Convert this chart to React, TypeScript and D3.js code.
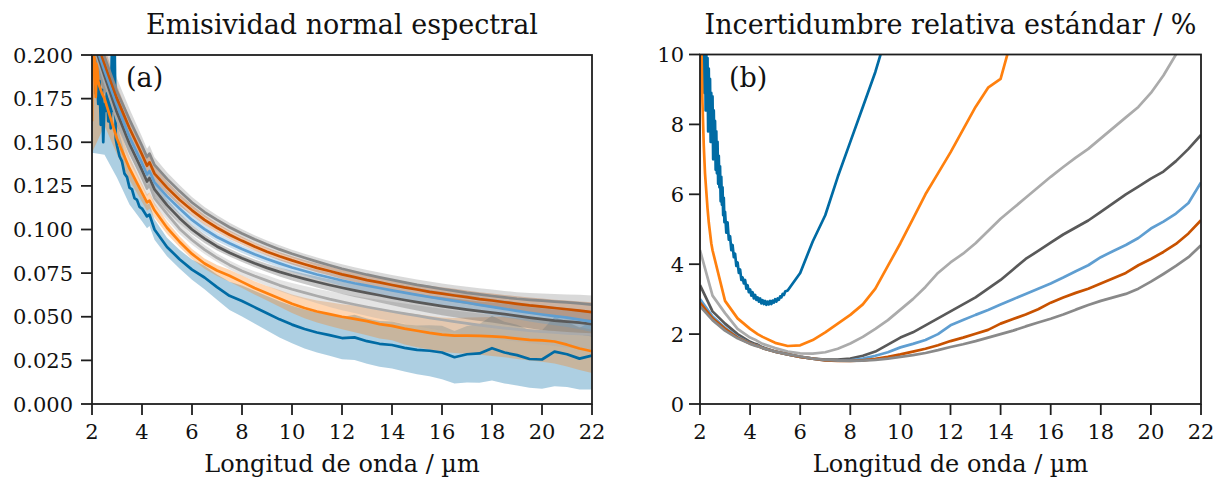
import React from 'react';
import * as d3 from 'd3';

// Wavelength grid (µm) shared by all series
const WL = [2, 2.5, 3, 3.5, 4, 4.2, 4.3, 4.5, 5, 5.5, 6, 6.5, 7, 7.5, 8, 8.5, 9, 9.5, 10, 10.5, 11, 11.5, 12, 12.5, 13, 13.5, 14, 14.5, 15, 15.5, 16, 16.5, 17, 17.5, 18, 18.5, 19, 19.5, 20, 20.5, 21, 21.5, 22];

// Spectral normal emissivity (panel a)
const EMI_BLUE = [0.200, 0.170, 0.145, 0.124, 0.112, 0.1075, 0.1085, 0.100, 0.090, 0.083, 0.077, 0.0725, 0.067, 0.062, 0.059, 0.0555, 0.052, 0.0485, 0.0455, 0.043, 0.041, 0.0395, 0.0378, 0.0382, 0.036, 0.0345, 0.0338, 0.0322, 0.031, 0.0305, 0.0295, 0.0268, 0.0285, 0.029, 0.032, 0.0295, 0.028, 0.0258, 0.0255, 0.030, 0.0285, 0.026, 0.0278];
const EMI_ORANGE = [0.200, 0.175, 0.152, 0.135, 0.121, 0.1155, 0.1165, 0.111, 0.101, 0.093, 0.086, 0.0805, 0.0765, 0.0735, 0.070, 0.0665, 0.0635, 0.0605, 0.0575, 0.055, 0.053, 0.0515, 0.050, 0.0488, 0.0475, 0.0458, 0.0448, 0.0432, 0.042, 0.0408, 0.0398, 0.0392, 0.0392, 0.039, 0.0387, 0.0383, 0.0375, 0.0368, 0.0365, 0.0358, 0.034, 0.0318, 0.0302];
const EMI_LGRAY = [0.208, 0.185, 0.163, 0.145, 0.130, 0.1235, 0.1255, 0.118, 0.109, 0.1005, 0.094, 0.0885, 0.0838, 0.0797, 0.0762, 0.0733, 0.0707, 0.068, 0.0658, 0.0638, 0.0619, 0.0601, 0.0585, 0.057, 0.0556, 0.0543, 0.053, 0.0518, 0.0506, 0.0494, 0.0483, 0.0472, 0.0462, 0.0452, 0.0443, 0.0435, 0.0428, 0.0421, 0.0415, 0.041, 0.0405, 0.0401, 0.0398];
const EMI_DGRAY = [0.21, 0.188, 0.167, 0.149, 0.134, 0.1275, 0.1295, 0.123, 0.114, 0.1065, 0.1, 0.0948, 0.0903, 0.0867, 0.0835, 0.0806, 0.078, 0.0757, 0.0736, 0.0717, 0.0699, 0.0682, 0.0666, 0.0651, 0.0637, 0.0623, 0.0609, 0.0596, 0.0584, 0.0572, 0.0561, 0.0551, 0.0541, 0.0532, 0.0524, 0.0515, 0.0505, 0.0495, 0.0486, 0.0478, 0.0472, 0.0466, 0.0458];
const EMI_LBLUE = [0.212, 0.191, 0.171, 0.153, 0.138, 0.1315, 0.1335, 0.127, 0.119, 0.112, 0.1055, 0.1002, 0.0957, 0.0921, 0.0888, 0.0858, 0.0831, 0.0806, 0.0782, 0.0762, 0.0742, 0.0725, 0.0708, 0.0692, 0.0678, 0.0665, 0.0651, 0.0638, 0.0625, 0.0613, 0.0602, 0.0591, 0.058, 0.0568, 0.0557, 0.0545, 0.0534, 0.0523, 0.0513, 0.0504, 0.0495, 0.0484, 0.0472];
const EMI_DORANGE = [0.215, 0.195, 0.175, 0.158, 0.143, 0.1365, 0.1385, 0.132, 0.124, 0.117, 0.111, 0.1055, 0.101, 0.097, 0.0935, 0.0902, 0.0873, 0.0847, 0.0823, 0.0801, 0.078, 0.0762, 0.0743, 0.0727, 0.071, 0.0697, 0.0682, 0.0668, 0.0656, 0.0643, 0.0633, 0.0622, 0.0612, 0.0601, 0.0593, 0.0583, 0.0574, 0.0565, 0.0558, 0.055, 0.0543, 0.0535, 0.0527];
const EMI_MGRAY = [0.218, 0.199, 0.179, 0.163, 0.148, 0.1415, 0.1435, 0.137, 0.129, 0.122, 0.1155, 0.11, 0.1055, 0.1013, 0.0977, 0.0944, 0.0914, 0.0886, 0.0861, 0.0838, 0.0816, 0.0795, 0.0775, 0.0758, 0.0741, 0.0726, 0.0711, 0.0697, 0.0683, 0.0671, 0.0659, 0.0648, 0.0637, 0.0628, 0.0619, 0.0611, 0.0603, 0.0597, 0.0592, 0.0587, 0.0582, 0.0577, 0.057];

// Noisy short-wavelength start of two emissivity series
const EMI_BLUE_START_WL = [2.0, 2.05, 2.1, 2.15, 2.2, 2.25, 2.3, 2.35, 2.4, 2.45, 2.5, 2.55, 2.6, 2.65, 2.7, 2.75, 2.8, 2.85, 2.9, 2.95, 3.0, 3.1, 3.2, 3.3, 3.4, 3.5, 3.6, 3.7, 3.8, 3.9, 4.0];
const EMI_BLUE_START = [0.21, 0.195, 0.2, 0.178, 0.19, 0.172, 0.185, 0.16, 0.18, 0.15, 0.172, 0.168, 0.178, 0.162, 0.175, 0.158, 0.21, 0.168, 0.215, 0.152, 0.148, 0.142, 0.139, 0.132, 0.13, 0.124, 0.123, 0.118, 0.117, 0.113, 0.112];
const EMI_ORANGE_START_WL = [2.0, 2.03, 2.06, 2.1, 2.15, 2.2, 2.25, 2.3, 2.4, 2.5];
const EMI_ORANGE_START = [0.162, 0.21, 0.19, 0.2, 0.176, 0.195, 0.185, 0.182, 0.178, 0.175];

// Relative standard uncertainty / % (panel b)
const U_BLUE = [14, 8.0, 5.3, 3.9, 3.25, 3.15, 3.0, 2.92, 2.95, 3.25, 3.75, 4.65, 5.4, 6.5, 7.5, 8.5, 9.5, 10.7, 11.8, 13, 14, 15, 16, 17, 18, 19, 20, 21, 22.5, 24, 26, 28, 28.5, 29, 29, 30, 31, 32, 33, 33, 33, 34, 35];
const U_ORANGE = [14, 4.4, 2.95, 2.45, 2.15, 2.05, 2.0, 1.92, 1.75, 1.66, 1.68, 1.83, 2.05, 2.3, 2.55, 2.85, 3.3, 3.95, 4.6, 5.3, 6.0, 6.6, 7.2, 7.85, 8.5, 9.05, 9.3, 10.6, 11.2, 11.8, 12.3, 12.8, 13.3, 13.8, 14.4, 15, 15.6, 16.2, 16.8, 17.5, 18.3, 19.3, 20.5];
const U_LGRAY = [4.4, 3.1, 2.6, 2.15, 1.9, 1.84, 1.8, 1.72, 1.6, 1.5, 1.45, 1.44, 1.48, 1.58, 1.73, 1.92, 2.15, 2.4, 2.7, 3.0, 3.35, 3.75, 4.05, 4.3, 4.6, 4.95, 5.3, 5.6, 5.9, 6.2, 6.5, 6.78, 7.05, 7.3, 7.6, 7.9, 8.2, 8.5, 8.9, 9.4, 10.0, 10.6, 11.2];
const U_DGRAY = [3.4, 2.65, 2.3, 2.0, 1.78, 1.72, 1.7, 1.62, 1.5, 1.42, 1.35, 1.3, 1.27, 1.27, 1.3, 1.38, 1.5, 1.7, 1.9, 2.05, 2.25, 2.45, 2.65, 2.85, 3.05, 3.3, 3.55, 3.85, 4.15, 4.38, 4.62, 4.85, 5.05, 5.25, 5.5, 5.75, 6.0, 6.22, 6.45, 6.65, 6.95, 7.3, 7.7];
const U_LBLUE = [3.0, 2.5, 2.18, 1.92, 1.74, 1.69, 1.67, 1.6, 1.5, 1.42, 1.35, 1.3, 1.25, 1.24, 1.25, 1.3, 1.38, 1.48, 1.62, 1.72, 1.83, 2.0, 2.25, 2.4, 2.55, 2.69, 2.85, 3.0, 3.15, 3.3, 3.45, 3.62, 3.8, 3.97, 4.2, 4.38, 4.55, 4.75, 5.02, 5.22, 5.45, 5.75, 6.34];
const U_DORANGE = [2.9, 2.45, 2.15, 1.9, 1.73, 1.68, 1.66, 1.6, 1.5, 1.42, 1.35, 1.3, 1.25, 1.23, 1.23, 1.25, 1.29, 1.35, 1.42, 1.5, 1.58, 1.68, 1.8, 1.9, 2.01, 2.12, 2.3, 2.43, 2.56, 2.71, 2.9, 3.05, 3.18, 3.3, 3.45, 3.6, 3.75, 3.97, 4.15, 4.35, 4.58, 4.88, 5.26];
const U_MGRAY = [2.8, 2.4, 2.1, 1.88, 1.72, 1.67, 1.65, 1.6, 1.5, 1.42, 1.36, 1.3, 1.26, 1.24, 1.23, 1.24, 1.26, 1.3, 1.35, 1.4, 1.46, 1.54, 1.63, 1.71, 1.8, 1.9, 2.0, 2.1, 2.22, 2.33, 2.44, 2.56, 2.7, 2.83, 2.95, 3.05, 3.15, 3.3, 3.5, 3.72, 3.95, 4.2, 4.54];

// Noisy short-wavelength start of two uncertainty series
const U_BLUE_START_WL = [
  2.1, 2.125, 2.15, 2.175, 2.2, 2.225, 2.25, 2.275, 2.3, 2.325, 2.35, 2.375, 2.4, 2.425, 2.45, 2.475, 2.5, 2.525, 2.55, 2.575,
  2.6, 2.625, 2.65, 2.675, 2.7, 2.725, 2.75, 2.775, 2.8, 2.825, 2.85, 2.875, 2.9, 2.925, 2.95, 2.975, 3.0,
  3.05, 3.1, 3.15, 3.2, 3.25, 3.3, 3.35, 3.4, 3.45, 3.5, 3.55, 3.6, 3.65, 3.7, 3.75, 3.8, 3.85, 3.9, 3.95, 4.0,
  4.05, 4.1, 4.15, 4.2, 4.25, 4.3, 4.35, 4.4, 4.45, 4.5, 4.55, 4.6, 4.65, 4.7, 4.75, 4.8, 4.85, 4.9, 4.95, 5.0,
  5.05, 5.1, 5.15, 5.2, 5.25, 5.3, 5.35, 5.4,
];
const U_BLUE_START = [
  11.5, 9.2, 10.8, 8.9, 10.9, 8.4, 10.2, 8.6, 9.9, 7.8, 9.6, 7.9, 9.3, 7.5, 8.9, 7.6, 8.8, 7.0, 8.4, 7.2,
  8.1, 6.7, 7.8, 6.6, 7.5, 6.3, 7.1, 6.2, 6.8, 5.8, 6.5, 5.7, 6.2, 5.4, 5.9, 5.2, 5.5,
  4.9, 5.2, 4.7, 4.8, 4.4, 4.55, 4.2, 4.3, 3.95, 4.05, 3.75, 3.85, 3.55, 3.62, 3.45, 3.55, 3.3, 3.4, 3.2, 3.28,
  3.1, 3.2, 3.02, 3.12, 2.98, 3.05, 2.93, 3.02, 2.88, 2.97, 2.86, 2.95, 2.84, 2.93, 2.85, 2.95, 2.86, 2.96, 2.9, 3.0,
  2.93, 3.02, 2.98, 3.08, 3.05, 3.15, 3.12, 3.22,
];
const U_ORANGE_START_WL = [2.0, 2.05, 2.1, 2.15, 2.2, 2.25, 2.3, 2.35, 2.4, 2.45];
const U_ORANGE_START = [14, 10.5, 8.6, 7.4, 6.6, 6.1, 5.6, 5.2, 4.9, 4.6];

const X_TICKS = [2, 4, 6, 8, 10, 12, 14, 16, 18, 20, 22];
const YA_TICKS = [0, 0.025, 0.05, 0.075, 0.1, 0.125, 0.15, 0.175, 0.2];
const YB_TICKS = [0, 2, 4, 6, 8, 10];

const TITLE_A = 'Emisividad normal espectral';
const TITLE_B = 'Incertidumbre relativa estándar / %';
const X_LABEL = 'Longitud de onda / µm';

const COLORS = ['#006BA4', '#FF800E', '#ABABAB', '#595959', '#5F9ED1', '#C85200', '#898989'];

type Pt = { w: number; v: number };

const zip = (ws: number[], vs: number[]): Pt[] => ws.map((w, i) => ({ w, v: vs[i] }));

const SERIES = [
  { emi: EMI_BLUE, unc: U_BLUE, emiStart: zip(EMI_BLUE_START_WL, EMI_BLUE_START), uncStart: zip(U_BLUE_START_WL, U_BLUE_START) },
  { emi: EMI_ORANGE, unc: U_ORANGE, emiStart: zip(EMI_ORANGE_START_WL, EMI_ORANGE_START), uncStart: zip(U_ORANGE_START_WL, U_ORANGE_START) },
  { emi: EMI_LGRAY, unc: U_LGRAY, emiStart: [] as Pt[], uncStart: [] as Pt[] },
  { emi: EMI_DGRAY, unc: U_DGRAY, emiStart: [] as Pt[], uncStart: [] as Pt[] },
  { emi: EMI_LBLUE, unc: U_LBLUE, emiStart: [] as Pt[], uncStart: [] as Pt[] },
  { emi: EMI_DORANGE, unc: U_DORANGE, emiStart: [] as Pt[], uncStart: [] as Pt[] },
  { emi: EMI_MGRAY, unc: U_MGRAY, emiStart: [] as Pt[], uncStart: [] as Pt[] },
];

const withStart = (start: Pt[], rest: Pt[]): Pt[] => {
  if (!start.length) return rest;
  const last = start[start.length - 1].w;
  return start.concat(rest.filter((p) => p.w > last));
};

const FONT = 'DejaVu Serif';

export default function App() {
  const A = { left: 92, right: 592, top: 55, bottom: 404 };
  const B = { left: 700, right: 1201, top: 54.5, bottom: 404 };
  const xa = d3.scaleLinear().domain([2, 22]).range([A.left, A.right]);
  const ya = d3.scaleLinear().domain([0, 0.2]).range([A.bottom, A.top]);
  const xb = d3.scaleLinear().domain([2, 22]).range([B.left, B.right]);
  const yb = d3.scaleLinear().domain([0, 10]).range([B.bottom, B.top]);

  const lineA = d3.line<Pt>().x((d) => xa(d.w)).y((d) => ya(d.v));
  const lineB = d3.line<Pt>().x((d) => xb(d.w)).y((d) => yb(d.v));
  const areaA = d3
    .area<{ w: number; lo: number; hi: number }>()
    .x((d) => xa(d.w))
    .y0((d) => ya(d.lo))
    .y1((d) => ya(d.hi));

  const tickLen = 11;
  const frame = '#1e1e1e';

  const axisX = (x: d3.ScaleLinear<number, number>, P: typeof A) => (
    <g>
      {X_TICKS.map((t) => (
        <g key={t}>
          <line x1={x(t)} x2={x(t)} y1={P.bottom} y2={P.bottom + tickLen} stroke={frame} strokeWidth={1.8} />
          <text x={x(t)} y={P.bottom + 35} textAnchor="middle" fontFamily={FONT} fontSize={21} fill="#111">
            {t}
          </text>
        </g>
      ))}
      <text x={(P.left + P.right) / 2} y={472} textAnchor="middle" fontFamily={FONT} fontSize={24} fill="#111">
        {X_LABEL}
      </text>
    </g>
  );

  return (
    <svg width={1227} height={480} style={{ position: 'absolute', left: 0, top: 0, background: '#fff' }}>
      <defs>
        <clipPath id="clipA">
          <rect x={A.left} y={A.top} width={A.right - A.left} height={A.bottom - A.top} />
        </clipPath>
        <clipPath id="clipB">
          <rect x={B.left} y={B.top} width={B.right - B.left} height={B.bottom - B.top} />
        </clipPath>
      </defs>
      <rect x={0} y={0} width={1227} height={480} fill="#fff" />

      {/* Panel (a) */}
      <g clipPath="url(#clipA)">
        {SERIES.map((s, i) => {
          const band = WL.map((w, k) => ({
            w,
            lo: s.emi[k] * (1 - (2 * s.unc[k]) / 100),
            hi: s.emi[k] * (1 + (2 * s.unc[k]) / 100),
          }));
          return <path key={'band' + i} d={areaA(band) || ''} fill={COLORS[i]} fillOpacity={0.32} stroke="none" />;
        })}
        {SERIES.map((s, i) => {
          const pts = withStart(s.emiStart, zip(WL, s.emi));
          return (
            <path key={'la' + i} d={lineA(pts) || ''} fill="none" stroke={COLORS[i]} strokeWidth={2.7} strokeLinejoin="round" />
          );
        })}
      </g>
      <rect x={A.left} y={A.top} width={A.right - A.left} height={A.bottom - A.top} fill="none" stroke={frame} strokeWidth={1.8} />
      {YA_TICKS.map((t) => (
        <g key={t}>
          <line x1={A.left - tickLen} x2={A.left} y1={ya(t)} y2={ya(t)} stroke={frame} strokeWidth={1.8} />
          <text x={A.left - 19} y={ya(t)} dy="0.36em" textAnchor="end" fontFamily={FONT} fontSize={21} fill="#111">
            {d3.format('.3f')(t)}
          </text>
        </g>
      ))}
      {axisX(xa, A)}
      <text x={(A.left + A.right) / 2} y={34} textAnchor="middle" fontFamily={FONT} fontSize={27} fill="#111">
        {TITLE_A}
      </text>
      <text x={126} y={87} fontFamily={FONT} fontSize={27} fill="#111">
        (a)
      </text>

      {/* Panel (b) */}
      <g clipPath="url(#clipB)">
        {SERIES.map((s, i) => {
          const pts = withStart(s.uncStart, zip(WL, s.unc));
          return (
            <path key={'lb' + i} d={lineB(pts) || ''} fill="none" stroke={COLORS[i]} strokeWidth={2.7} strokeLinejoin="round" />
          );
        })}
      </g>
      <rect x={B.left} y={B.top} width={B.right - B.left} height={B.bottom - B.top} fill="none" stroke={frame} strokeWidth={1.8} />
      {YB_TICKS.map((t) => (
        <g key={t}>
          <line x1={B.left - tickLen} x2={B.left} y1={yb(t)} y2={yb(t)} stroke={frame} strokeWidth={1.8} />
          <text x={B.left - 16} y={yb(t)} dy="0.36em" textAnchor="end" fontFamily={FONT} fontSize={21} fill="#111">
            {t}
          </text>
        </g>
      ))}
      {axisX(xb, B)}
      <text x={(B.left + B.right) / 2} y={34} textAnchor="middle" fontFamily={FONT} fontSize={27} fill="#111">
        {TITLE_B}
      </text>
      <text x={729} y={87} fontFamily={FONT} fontSize={27} fill="#111">
        (b)
      </text>
    </svg>
  );
}
